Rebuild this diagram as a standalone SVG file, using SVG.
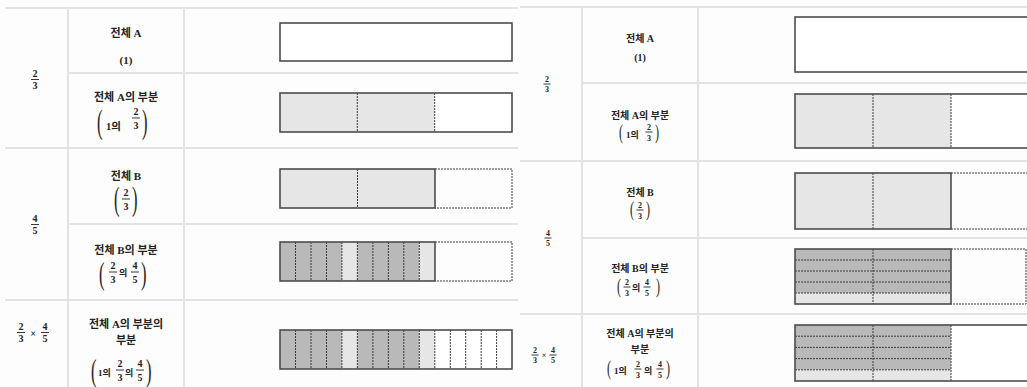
<svg xmlns="http://www.w3.org/2000/svg" width="1027" height="387" viewBox="0 0 1027 387">
<style>
.tl{stroke:#e3e3e3;stroke-width:2;fill:none}
.bx{fill:none;stroke:#4d4d4d;stroke-width:1.6}
.ds{stroke:#3a3a3a;stroke-width:1;stroke-dasharray:2 1;fill:none}
.dk{fill:#b9b9b9}
.lt{fill:#e6e6e6}
.wh{fill:#ffffff}
text{font-family:"Liberation Serif","Noto Sans CJK KR",serif;fill:#222}
.t1{font-size:11px;font-weight:bold;text-anchor:middle}
.t2{font-size:10px;font-weight:bold;text-anchor:middle}
.s1{font-size:10.5px;font-weight:bold}
.s2{font-size:9px;font-weight:bold}
.f1{font-size:10px;font-weight:bold;text-anchor:middle}
.f2{font-size:8px;font-weight:bold;text-anchor:middle}
.fb{stroke:#222;stroke-width:0.9}
.p1{font-size:30px;font-weight:normal}
.p2{font-size:20px;font-weight:normal}
</style>
<rect x="0" y="0" width="1027" height="387" fill="#fdfdfd"/>

<g id="table-left-grid">
<line class="tl" x1="5" y1="8" x2="518" y2="8"/>
<line class="tl" x1="68" y1="73" x2="518" y2="73"/>
<line class="tl" x1="5" y1="148" x2="518" y2="148"/>
<line class="tl" x1="68" y1="224" x2="518" y2="224"/>
<line class="tl" x1="5" y1="300" x2="518" y2="300"/>
<line class="tl" x1="68" y1="8" x2="68" y2="387"/>
<line class="tl" x1="184" y1="8" x2="184" y2="387"/>
</g>
<g id="table-right-grid">
<line class="tl" x1="520" y1="7" x2="1027" y2="7"/>
<line class="tl" x1="582" y1="83" x2="1027" y2="83"/>
<line class="tl" x1="520" y1="161" x2="1027" y2="161"/>
<line class="tl" x1="582" y1="238" x2="1027" y2="238"/>
<line class="tl" x1="520" y1="314" x2="1027" y2="314"/>
<line class="tl" x1="582" y1="7" x2="582" y2="387"/>
<line class="tl" x1="698" y1="7" x2="698" y2="387"/>
</g>

<!-- LEFT TABLE -->
<g id="L-frac-2-3">
<text class="f1" x="35" y="77">2</text><line class="fb" x1="31" y1="79.5" x2="39" y2="79.5"/><text class="f1" x="35" y="89">3</text>
</g>
<g id="L-frac-4-5">
<text class="f1" x="35" y="222">4</text><line class="fb" x1="31" y1="224.5" x2="39" y2="224.5"/><text class="f1" x="35" y="234">5</text>
</g>
<g id="L-frac-prod">
<text class="f1" x="21" y="330">2</text><line class="fb" x1="17" y1="332.5" x2="25" y2="332.5"/><text class="f1" x="21" y="342">3</text>
<text class="f1" x="33" y="337">×</text>
<text class="f1" x="45" y="330">4</text><line class="fb" x1="41" y1="332.5" x2="49" y2="332.5"/><text class="f1" x="45" y="342">5</text>
</g>

<g id="L-label-A">
<text class="t1" x="126" y="37">전체 A</text>
<text class="t1" x="126" y="64">(1)</text>
</g>
<g id="L-label-Apart">
<text class="t1" x="126" y="101">전체 A의 부분</text>
<text class="p1" transform="translate(97,133) scale(0.55,1.1)">(</text>
<text class="s1" x="106" y="130">1의</text>
<text class="f1" x="136" y="115">2</text><line class="fb" x1="132" y1="118" x2="140" y2="118"/><text class="f1" x="136" y="129">3</text>
<text class="p1" transform="translate(142,133) scale(0.55,1.1)">)</text>
</g>
<g id="L-label-B">
<text class="t1" x="126" y="180">전체 B</text>
<text class="p1" transform="translate(114,210) scale(0.55,1.1)">(</text>
<text class="f1" x="126" y="196">2</text><line class="fb" x1="122" y1="199" x2="130" y2="199"/><text class="f1" x="126" y="210">3</text>
<text class="p1" transform="translate(132,210) scale(0.55,1.1)">)</text>
</g>
<g id="L-label-Bpart">
<text class="t1" x="126" y="254">전체 B의 부분</text>
<text class="p1" transform="translate(99,284) scale(0.55,1.05)">(</text>
<text class="f1" x="113" y="269">2</text><line class="fb" x1="109" y1="272" x2="117" y2="272"/><text class="f1" x="113" y="283">3</text>
<text class="s2" x="119" y="276">의</text>
<text class="f1" x="135" y="269">4</text><line class="fb" x1="131" y1="272" x2="139" y2="272"/><text class="f1" x="135" y="283">5</text>
<text class="p1" transform="translate(141,284) scale(0.55,1.05)">)</text>
</g>
<g id="L-label-AB">
<text class="t1" x="126" y="328">전체 A의 부분의</text>
<text class="t1" x="126" y="344">부분</text>
<text class="p1" transform="translate(91,381) scale(0.55,1.05)">(</text>
<text class="s2" x="98" y="376">1의</text>
<text class="f1" x="120" y="367">2</text><line class="fb" x1="116" y1="370" x2="124" y2="370"/><text class="f1" x="120" y="381">3</text>
<text class="s2" x="125" y="376">의</text>
<text class="f1" x="140" y="367">4</text><line class="fb" x1="136" y1="370" x2="144" y2="370"/><text class="f1" x="140" y="381">5</text>
<text class="p1" transform="translate(146,381) scale(0.55,1.05)">)</text>
</g>

<g id="L-bar-A">
<rect class="wh" x="280" y="23" width="232" height="38"/>
<rect class="bx" x="280" y="23" width="232" height="38"/>
</g>
<g id="L-bar-Apart">
<rect class="lt" x="280" y="93" width="154.7" height="39"/>
<rect class="wh" x="434.7" y="93" width="77.3" height="39"/>
<line class="ds" x1="357.3" y1="93" x2="357.3" y2="132"/>
<line class="ds" x1="434.7" y1="93" x2="434.7" y2="132"/>
<rect class="bx" x="280" y="93" width="232" height="39"/>
</g>
<g id="L-bar-B">
<rect class="lt" x="280" y="169" width="155" height="39"/>
<line class="ds" x1="357.5" y1="169" x2="357.5" y2="208"/>
<path class="ds" d="M435,169 H512 V208 H435"/>
<rect class="bx" x="280" y="169" width="155" height="39"/>
</g>
<g id="L-bar-Bpart">
<rect class="dk" x="280" y="242" width="61.9" height="39"/>
<rect class="lt" x="341.9" y="242" width="15.5" height="39"/>
<rect class="dk" x="357.4" y="242" width="61.9" height="39"/>
<rect class="lt" x="419.3" y="242" width="15.7" height="39"/>
<path class="ds" d="M295.5,242V281M311,242V281M326.5,242V281M341.9,242V281M357.4,242V281M372.9,242V281M388.4,242V281M403.8,242V281M419.3,242V281"/>
<path class="ds" d="M435,242 H512 V281 H435"/>
<rect class="bx" x="280" y="242" width="155" height="39"/>
</g>
<g id="L-bar-AB">
<rect class="wh" x="280" y="330" width="232" height="39"/>
<rect class="dk" x="280" y="330" width="61.9" height="39"/>
<rect class="lt" x="341.9" y="330" width="15.5" height="39"/>
<rect class="dk" x="357.4" y="330" width="61.9" height="39"/>
<rect class="lt" x="419.3" y="330" width="15.5" height="39"/>
<path class="ds" d="M295.5,330V369M311,330V369M326.5,330V369M341.9,330V369M357.4,330V369M372.9,330V369M388.4,330V369M403.8,330V369M419.3,330V369M434.8,330V369M450.3,330V369M465.7,330V369M481.2,330V369M496.6,330V369"/>
<rect class="bx" x="280" y="330" width="232" height="39"/>
</g>

<!-- RIGHT TABLE -->
<g id="R-frac-2-3">
<text class="f2" x="547" y="82">2</text><line class="fb" x1="543.5" y1="84" x2="550.5" y2="84"/><text class="f2" x="547" y="92">3</text>
</g>
<g id="R-frac-4-5">
<text class="f2" x="548" y="236">4</text><line class="fb" x1="544.5" y1="238" x2="551.5" y2="238"/><text class="f2" x="548" y="246">5</text>
</g>
<g id="R-frac-prod">
<text class="f2" x="535" y="353">2</text><line class="fb" x1="531.5" y1="355" x2="538.5" y2="355"/><text class="f2" x="535" y="363">3</text>
<text class="f2" x="544" y="358">×</text>
<text class="f2" x="553" y="353">4</text><line class="fb" x1="549.5" y1="355" x2="556.5" y2="355"/><text class="f2" x="553" y="363">5</text>
</g>

<g id="R-label-A">
<text class="t2" x="640" y="42">전체 A</text>
<text class="t2" x="640" y="61">(1)</text>
</g>
<g id="R-label-Apart">
<text class="t2" x="640" y="119">전체 A의 부분</text>
<text class="p2" transform="translate(619,139) scale(0.6,1.05)">(</text>
<text class="s2" x="626" y="138">1의</text>
<text class="f2" x="649" y="130">2</text><line class="fb" x1="645.5" y1="132" x2="652.5" y2="132"/><text class="f2" x="649" y="141">3</text>
<text class="p2" transform="translate(655,139) scale(0.6,1.05)">)</text>
</g>
<g id="R-label-B">
<text class="t2" x="640" y="196">전체 B</text>
<text class="p2" transform="translate(630,216) scale(0.6,1.05)">(</text>
<text class="f2" x="640" y="208">2</text><line class="fb" x1="636.5" y1="210" x2="643.5" y2="210"/><text class="f2" x="640" y="219">3</text>
<text class="p2" transform="translate(646,216) scale(0.6,1.05)">)</text>
</g>
<g id="R-label-Bpart">
<text class="t2" x="640" y="272">전체 B의 부분</text>
<text class="p2" transform="translate(617,293) scale(0.6,1.05)">(</text>
<text class="f2" x="627" y="285">2</text><line class="fb" x1="623.5" y1="287" x2="630.5" y2="287"/><text class="f2" x="627" y="296">3</text>
<text class="s2" x="632" y="291">의</text>
<text class="f2" x="647" y="285">4</text><line class="fb" x1="643.5" y1="287" x2="650.5" y2="287"/><text class="f2" x="647" y="296">5</text>
<text class="p2" transform="translate(656,293) scale(0.6,1.05)">)</text>
</g>
<g id="R-label-AB">
<text class="t2" x="640" y="337">전체 A의 부분의</text>
<text class="t2" x="640" y="353">부분</text>
<text class="p2" transform="translate(607,375) scale(0.6,1.05)">(</text>
<text class="s2" x="614" y="374">1의</text>
<text class="f2" x="638" y="367">2</text><line class="fb" x1="634.5" y1="369" x2="641.5" y2="369"/><text class="f2" x="638" y="378">3</text>
<text class="s2" x="644" y="374">의</text>
<text class="f2" x="660" y="367">4</text><line class="fb" x1="656.5" y1="369" x2="663.5" y2="369"/><text class="f2" x="660" y="378">5</text>
<text class="p2" transform="translate(666,375) scale(0.6,1.05)">)</text>
</g>

<g id="R-bar-A">
<rect class="wh" x="795" y="17" width="234" height="55"/>
<rect class="bx" x="795" y="17" width="234" height="55"/>
</g>
<g id="R-bar-Apart">
<rect class="lt" x="795" y="94" width="156" height="54"/>
<rect class="wh" x="951" y="94" width="78" height="54"/>
<line class="ds" x1="873" y1="94" x2="873" y2="148"/>
<line class="ds" x1="951" y1="94" x2="951" y2="148"/>
<rect class="bx" x="795" y="94" width="234" height="54"/>
</g>
<g id="R-bar-B">
<rect class="lt" x="795" y="173" width="156" height="56"/>
<line class="ds" x1="873" y1="173" x2="873" y2="229"/>
<path class="ds" d="M951,173 H1029 M951,229 H1029"/>
<rect class="bx" x="795" y="173" width="156" height="56"/>
</g>
<g id="R-bar-Bpart">
<rect class="dk" x="795" y="249" width="156" height="44"/>
<rect class="lt" x="795" y="293" width="156" height="11"/>
<path class="ds" d="M795,260H951M795,271H951M795,282H951M795,293H951M873,249V304"/>
<path class="ds" d="M951,249 H1026 V304 H951"/>
<rect class="bx" x="795" y="249" width="156" height="55"/>
</g>
<g id="R-bar-AB">
<rect class="wh" x="795" y="325" width="234" height="56"/>
<rect class="dk" x="795" y="325" width="156" height="44.8"/>
<rect class="lt" x="795" y="369.8" width="156" height="11.2"/>
<path class="ds" d="M795,336.2H951M795,347.4H951M795,358.6H951M795,369.8H951M873,325V381M951,325V381"/>
<rect class="bx" x="795" y="325" width="234" height="56"/>
</g>
</svg>
